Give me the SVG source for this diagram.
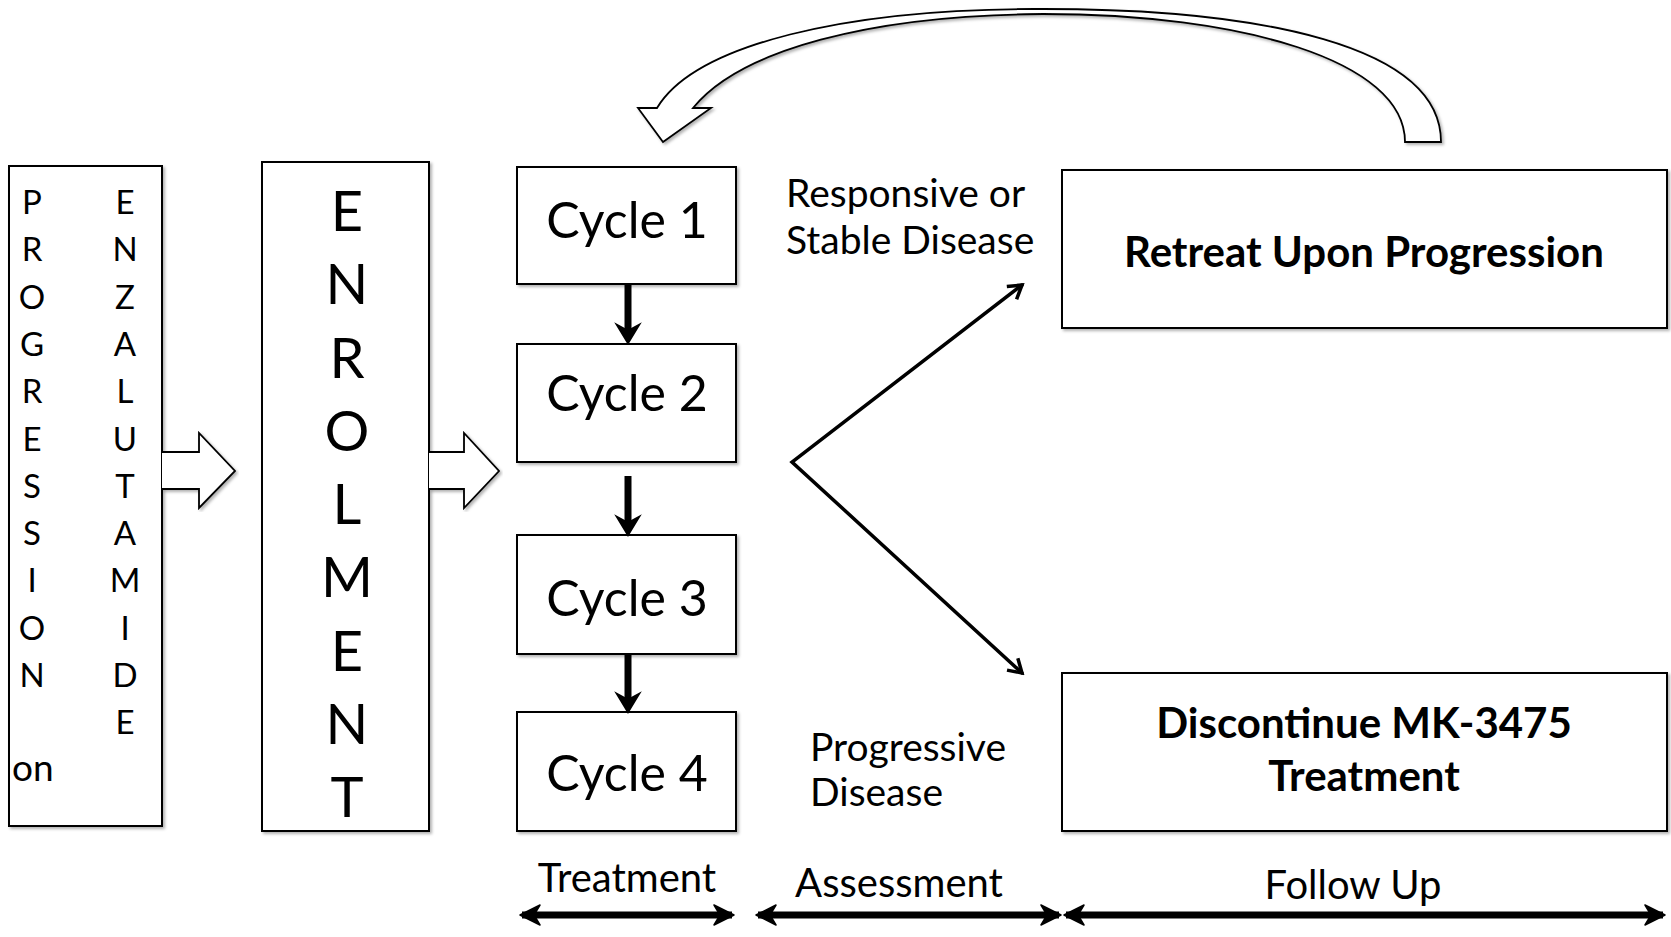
<svg xmlns="http://www.w3.org/2000/svg" width="1671" height="937" viewBox="0 0 1671 937">
<style>
text{font-family:Lato,"Liberation Sans",sans-serif;fill:#000}
.box{fill:#fff;stroke:#000;stroke-width:2}
.blk{fill:#fff;stroke:#000;stroke-width:1.8;stroke-linejoin:miter}
.v{font-size:33px;text-anchor:middle}
.en{font-size:56px;text-anchor:middle}
.cy{font-size:50px;text-anchor:middle}
.lab{font-size:39px}
.on{font-size:37px}
.res{font-size:42px;font-weight:bold;text-anchor:middle}
.bot{font-size:40px;text-anchor:middle}
.thin{fill:none;stroke:#000;stroke-width:3.5;stroke-linecap:round;stroke-linejoin:miter}
.thick{fill:none;stroke:#000;stroke-width:7}
.dbl{fill:none;stroke:#000;stroke-width:7}
</style>
<defs>
<filter id="sh" x="-5%" y="-5%" width="110%" height="110%">
<feDropShadow dx="2" dy="2" stdDeviation="1.5" flood-color="#000" flood-opacity="0.3"/>
</filter>
<marker id="chev" viewBox="0 0 20 20" refX="17" refY="10" markerWidth="20" markerHeight="20" markerUnits="userSpaceOnUse" orient="auto-start-reverse">
<path d="M4,2 L17,10 L4,18" fill="none" stroke="#000" stroke-width="3.5"/>
</marker>
<marker id="stealth" viewBox="0 0 24 24" refX="20" refY="12" markerWidth="24" markerHeight="24" markerUnits="userSpaceOnUse" orient="auto-start-reverse">
<path d="M2,2 L22,12 L2,22 L8,12 Z" fill="#000" stroke="#000" stroke-width="1.5" stroke-linejoin="round"/>
</marker>
</defs>

<g id="progression-box">
<rect class="box" x="9" y="166" width="153" height="660" filter="url(#sh)"/>
<text class="v" x="32" y="214">P</text>
<text class="v" x="32" y="261.3">R</text>
<text class="v" x="32" y="308.6">O</text>
<text class="v" x="32" y="355.9">G</text>
<text class="v" x="32" y="403.2">R</text>
<text class="v" x="32" y="450.5">E</text>
<text class="v" x="32" y="497.8">S</text>
<text class="v" x="32" y="545.1">S</text>
<text class="v" x="32" y="592.4">I</text>
<text class="v" x="32" y="639.7">O</text>
<text class="v" x="32" y="687">N</text>
<text class="v" x="125" y="214">E</text>
<text class="v" x="125" y="261.3">N</text>
<text class="v" x="125" y="308.6">Z</text>
<text class="v" x="125" y="355.9">A</text>
<text class="v" x="125" y="403.2">L</text>
<text class="v" x="125" y="450.5">U</text>
<text class="v" x="125" y="497.8">T</text>
<text class="v" x="125" y="545.1">A</text>
<text class="v" x="125" y="592.4">M</text>
<text class="v" x="125" y="639.7">I</text>
<text class="v" x="125" y="687">D</text>
<text class="v" x="125" y="734.3">E</text>
<text class="on" x="12" y="781">on</text>
</g>

<g id="enrolment-box">
<rect class="box" x="262" y="162" width="167" height="669" filter="url(#sh)"/>
<text class="en" x="347" y="231">E</text>
<text class="en" x="347" y="304.3">N</text>
<text class="en" x="347" y="377.5">R</text>
<text class="en" x="347" y="450.8">O</text>
<text class="en" x="347" y="524">L</text>
<text class="en" x="347" y="597.3">M</text>
<text class="en" x="347" y="670.5">E</text>
<text class="en" x="347" y="743.8">N</text>
<text class="en" x="347" y="817">T</text>
</g>

<g id="cycle1"><rect class="box" x="517" y="167" width="219" height="117" filter="url(#sh)"/><text class="cy" x="627" y="238">Cycle 1</text></g>
<g id="cycle2"><rect class="box" x="517" y="344" width="219" height="118" filter="url(#sh)"/><text class="cy" x="627" y="411">Cycle 2</text></g>
<g id="cycle3"><rect class="box" x="517" y="535" width="219" height="119" filter="url(#sh)"/><text class="cy" x="627" y="616">Cycle 3</text></g>
<g id="cycle4"><rect class="box" x="517" y="712" width="219" height="119" filter="url(#sh)"/><text class="cy" x="627" y="791">Cycle 4</text></g>

<g id="retreat-box"><rect class="box" x="1062" y="170" width="605" height="158" filter="url(#sh)"/><text class="res" x="1364" y="267">Retreat Upon Progression</text></g>
<g id="discontinue-box"><rect class="box" x="1062" y="673" width="605" height="158" filter="url(#sh)"/><text class="res" x="1364" y="738">Discontinue MK-3475</text><text class="res" x="1364" y="791">Treatment</text></g>

<g id="labels">
<text class="lab" x="786" y="207">Responsive or</text>
<text class="lab" x="786" y="254">Stable Disease</text>
<text class="lab" x="810" y="761">Progressive</text>
<text class="lab" x="810" y="806">Disease</text>
<text class="bot" x="627" y="892">Treatment</text>
<text class="bot" x="899" y="897">Assessment</text>
<text class="bot" x="1353" y="899">Follow Up</text>
</g>

<g id="connectors">
<path class="blk" filter="url(#sh)" d="M162,452 L199,452 L199,433 L235,471 L199,508 L199,489 L162,489"/>
<path class="blk" filter="url(#sh)" d="M429,452 L464,452 L464,433 L499,471 L464,508 L464,489 L429,489"/>
<path class="blk" filter="url(#sh)" d="M657,108 C695,45 845,8 1043,9 C1260,9 1441,45 1441,142 L1405,142 C1405,60 1240,14 1043,14 C870,15 740,50 693,108 L711,108 L663,142 L638,108 Z"/>
<line class="thick" x1="628" y1="284" x2="628" y2="333"/>
<path d="M617,325 L628,343 L639,325 L628,331 Z" fill="#000" stroke="#000" stroke-width="2"/>
<line class="thick" x1="628" y1="476" x2="628" y2="525"/>
<path d="M617,517 L628,535 L639,517 L628,523 Z" fill="#000" stroke="#000" stroke-width="2"/>
<line class="thick" x1="628" y1="654" x2="628" y2="702"/>
<path d="M617,694 L628,712 L639,694 L628,700 Z" fill="#000" stroke="#000" stroke-width="2"/>
<polyline class="thin" points="1022,285 792,462 1022,673" marker-start="url(#chev)" marker-end="url(#chev)"/>
<line class="dbl" x1="522" y1="915" x2="732" y2="915" marker-start="url(#stealth)" marker-end="url(#stealth)"/>
<line class="dbl" x1="758" y1="915" x2="1059" y2="915" marker-start="url(#stealth)" marker-end="url(#stealth)"/>
<line class="dbl" x1="1066" y1="915" x2="1663" y2="915" marker-start="url(#stealth)" marker-end="url(#stealth)"/>
</g>
</svg>
